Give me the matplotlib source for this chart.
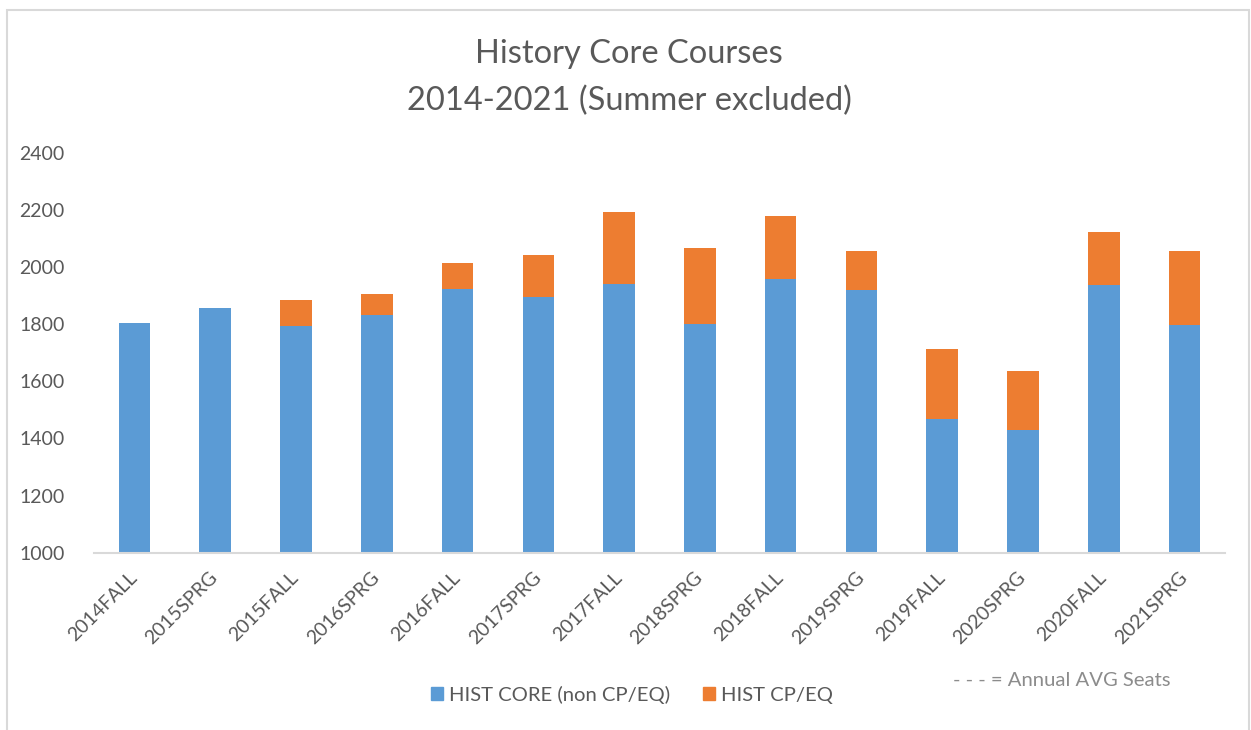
import matplotlib.pyplot as plt
from matplotlib.patches import Patch, Rectangle

plt.rcParams['font.family'] = ['Lato', 'DejaVu Sans']

terms = ['2014FALL', '2015SPRG', '2015FALL', '2016SPRG', '2016FALL', '2017SPRG', '2017FALL',
         '2018SPRG', '2018FALL', '2019SPRG', '2019FALL', '2020SPRG', '2020FALL', '2021SPRG']
core = [1805, 1857, 1793, 1832, 1924, 1894, 1942, 1802, 1959, 1921, 1469, 1430, 1938, 1798]
cpeq = [0, 0, 91, 75, 89, 149, 250, 263, 221, 135, 244, 205, 184, 258]

blue = '#5b9bd5'
orange = '#ed7d31'
grey = '#595959'

fig = plt.figure(figsize=(12.51, 7.3), dpi=100)
ax = fig.add_axes([94 / 1251, 177.3 / 730, (1225 - 94) / 1251, 400 / 730])

x = range(len(terms))
ax.bar(x, core, width=0.39, color=blue, bottom=0)
ax.bar(x, cpeq, width=0.39, color=orange, bottom=core)

ax.set_ylim(1000, 2400)
ax.set_xlim(-0.5, len(terms) - 0.5)
ax.set_yticks(range(1000, 2401, 200))
ax.set_xticks(list(x))
ax.set_xticklabels(terms, rotation=45, ha='right', va='center', rotation_mode='anchor')
ax.tick_params(axis='y', length=0, pad=21, labelsize=14, labelcolor=grey)
ax.tick_params(axis='x', length=0, pad=16, labelsize=14, labelcolor=grey)
for s in ['top', 'right', 'left']:
    ax.spines[s].set_visible(False)
ax.spines['bottom'].set_color('#d9d9d9')
ax.spines['bottom'].set_linewidth(1.5)

fig.text(629 / 1251, 1 - 54 / 730, 'History Core Courses', ha='center', va='center',
         fontsize=23.5, color=grey)
fig.text(629 / 1251, 1 - 101 / 730, '2014-2021 (Summer excluded)', ha='center', va='center',
         fontsize=23.5, color=grey)

handles = [Patch(color=blue, label='HIST CORE (non CP/EQ)'),
           Patch(color=orange, label='HIST CP/EQ')]
fig.legend(handles=handles, loc='center', bbox_to_anchor=(632 / 1251, 1 - 695 / 730), ncol=2,
           frameon=False, fontsize=14.6, labelcolor=grey, handlelength=0.6, handleheight=0.6,
           handletextpad=0.3, columnspacing=1.6)

fig.text(1062 / 1251, 1 - 680 / 730, '- - - = Annual AVG Seats', ha='center', va='center',
         fontsize=14.6, color='#8c8c8c')

# chart border
fig.patches.append(Rectangle((7 / 1251, -0.05), (1249 - 7) / 1251, 1.05 - 10 / 730,
                             transform=fig.transFigure, fill=False, edgecolor='#d9d9d9',
                             linewidth=1.5))

fig.savefig('out.png', dpi=100)
